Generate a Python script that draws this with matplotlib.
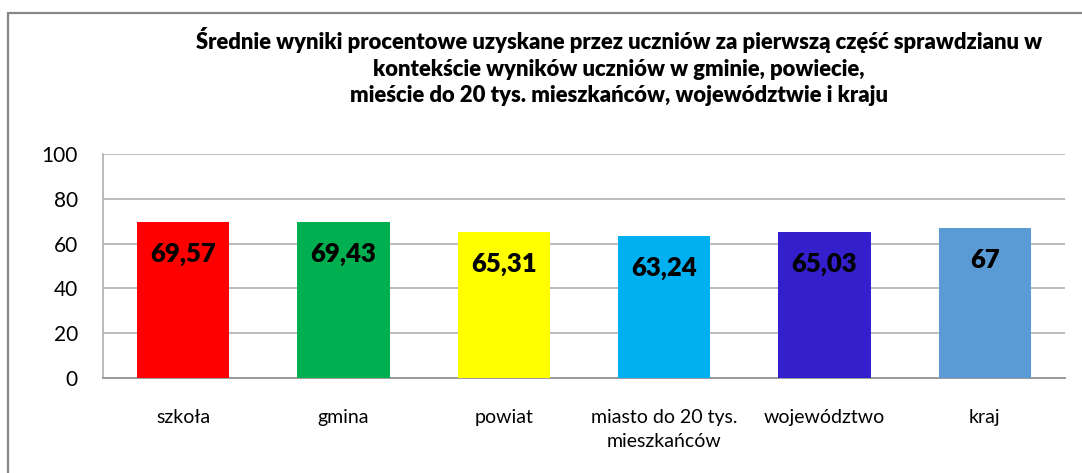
import matplotlib
matplotlib.use("Agg")
import matplotlib.pyplot as plt
from matplotlib.patches import Rectangle

categories = ["szkoła", "gmina", "powiat", "miasto do 20 tys.\nmieszkańców", "województwo", "kraj"]
values = [69.57, 69.43, 65.31, 63.24, 65.03, 67]
colors = ["#FF0000", "#00B050", "#FFFF00", "#00B0F0", "#3320CC", "#5B9BD5"]
yticks = [0, 20, 40, 60, 80, 100]
title = ("Średnie wyniki procentowe uzyskane przez uczniów za pierwszą część sprawdzianu w\n"
         "kontekście wyników uczniów w gminie, powiecie,\n"
         "mieście do 20 tys. mieszkańców, województwie i kraju")

plt.rcParams['font.family'] = ['Lato', 'DejaVu Sans']

fig = plt.figure(figsize=(10.82, 4.73), dpi=100)
fig.patch.set_facecolor("white")

# outer chart border (extends beyond right/bottom edges)
fig.add_artist(Rectangle((8 / 1082, -0.1), 1.2, (473 - 13) / 473 + 0.1,
                         transform=fig.transFigure, fill=False,
                         edgecolor="#878787", linewidth=1.6))

ax = fig.add_axes([103 / 1082, (473 - 378) / 473, (1065 - 103) / 1082, (378 - 154) / 473])
x = list(range(len(categories)))
ax.bar(x, values, width=0.575, color=colors, zorder=3)

for xi, v in zip(x, values):
    lbl = f"{v:g}".replace(".", ",")
    ax.annotate(lbl, (xi, v), xytext=(0, -23), textcoords="offset points",
                ha="center", va="center", fontsize=18.5, fontweight="heavy",
                color="black", zorder=4)

ax.set_xlim(-0.5, len(categories) - 0.5)
ax.set_ylim(0, 100)
ax.set_yticks(yticks)
ax.set_yticklabels([str(t) for t in yticks], fontsize=15)
ax.set_xticks(x)
ax.set_xticklabels(categories, fontsize=14, linespacing=1.5)
ax.tick_params(axis="y", length=0, pad=18)
ax.tick_params(axis="x", length=0, pad=22)
ax.yaxis.grid(True, color="#AFAFAF", linewidth=1.2, zorder=0)
ax.set_axisbelow(True)
for s in ["top", "right"]:
    ax.spines[s].set_visible(False)
ax.spines["left"].set_color("#AFAFAF")
ax.spines["left"].set_linewidth(1.2)
ax.spines["bottom"].set_color("#9A9A9A")
ax.spines["bottom"].set_linewidth(1.4)

fig.text(619 / 1082, (473 - 27) / 473, title, ha="center", va="top",
         fontsize=15.8, fontweight="heavy", linespacing=1.33)

fig.savefig("out.png", dpi=100, facecolor="white")
